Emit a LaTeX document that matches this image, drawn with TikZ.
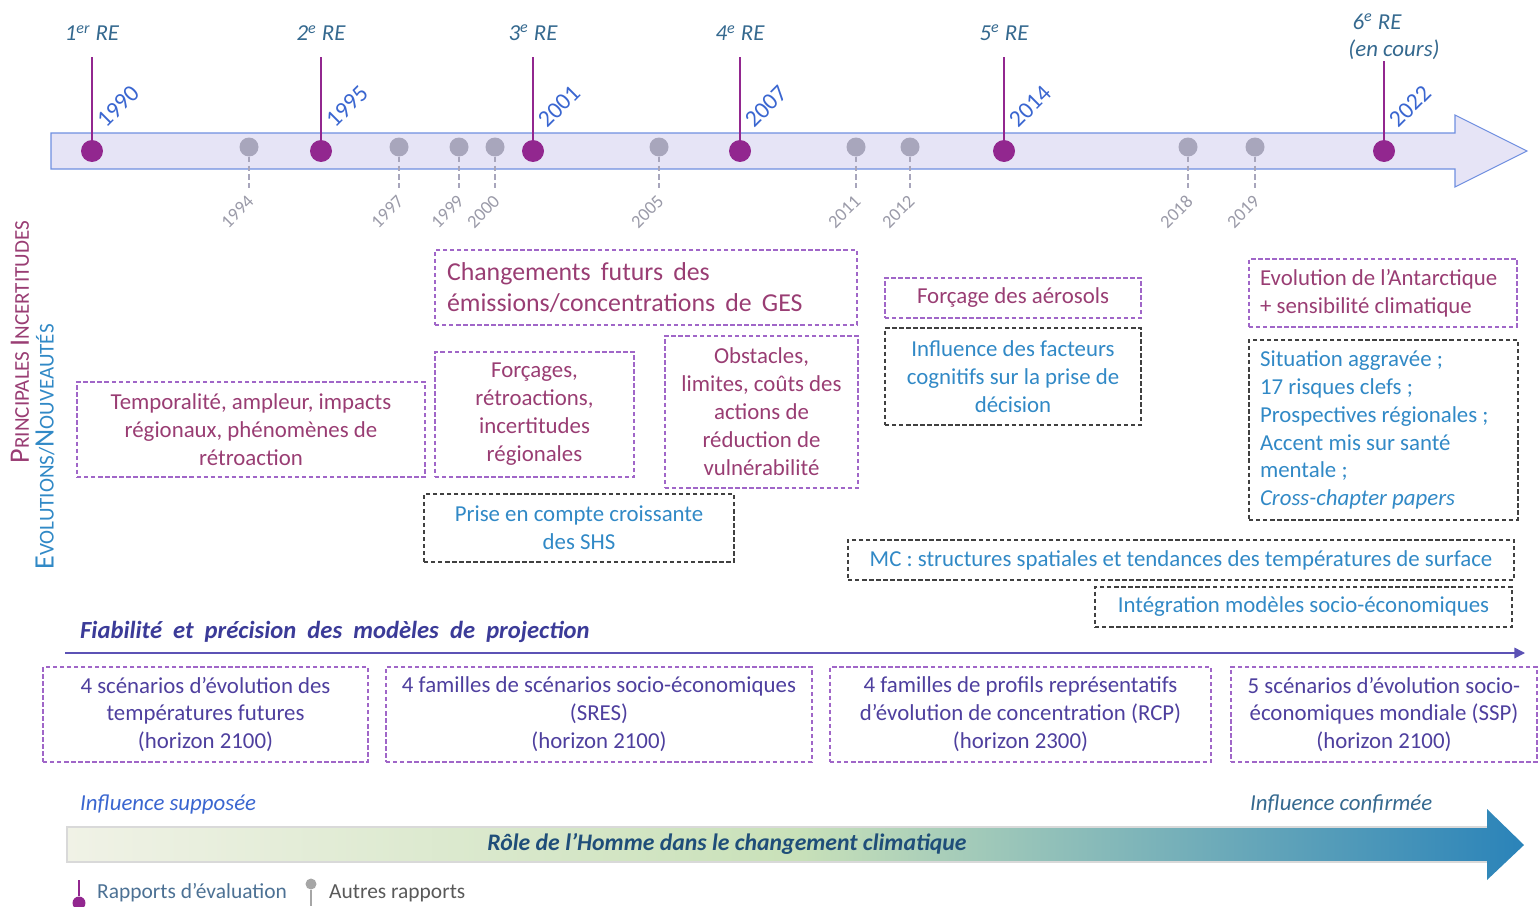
\documentclass[tikz,border=0pt]{standalone}
\usepackage{fontspec}
\setmainfont{Carlito}
\usetikzlibrary{arrows.meta}
\definecolor{repurple}{HTML}{92278F}
\definecolor{dotgrey}{HTML}{A8A6BC}
\definecolor{barfill}{HTML}{E6E4F6}
\definecolor{barline}{HTML}{6F8FE0}
\definecolor{relabel}{HTML}{35698F}
\definecolor{yearblue}{HTML}{3A66D0}
\definecolor{yeargrey}{HTML}{9A9AA8}
\definecolor{plumtext}{HTML}{993D73}
\definecolor{violetline}{HTML}{A066C8}
\definecolor{bluetext}{HTML}{3189C6}
\definecolor{greyline}{HTML}{404040}
\definecolor{indigotext}{HTML}{4E3F9E}
\definecolor{indigoline}{HTML}{5C52B5}
\definecolor{fiabtext}{HTML}{3B3B98}
\definecolor{rolelight}{HTML}{F0F2E6}
\definecolor{rolegreen}{HTML}{C9E1B9}
\definecolor{roleblue}{HTML}{2A83B9}
\definecolor{roletext}{HTML}{1F4E79}

\begin{document}
\begin{tikzpicture}[x=0.02cm, y=-0.02cm,
	boxtext/.style={font=\fontsize{13}{15.9}\selectfont, align=center, inner sep=0pt, line width=0.7pt, dash pattern=on 2.5pt off 1.5pt},
	uncbox/.style={boxtext, draw=violetline, text=plumtext},
	newbox/.style={boxtext, draw=greyline, text=bluetext},
	modbox/.style={boxtext, draw=violetline, text=indigotext},
	redot/.style={circle, fill=repurple, inner sep=0pt, minimum size=0.44cm},
	otherdot/.style={circle, fill=dotgrey, inner sep=0pt, minimum size=0.38cm},
	relab/.style={font=\fontsize{13}{15}\selectfont\itshape, text=relabel},
	yearlab/.style={font=\fontsize{13.5}{15}\selectfont, text=yearblue, rotate=45, inner sep=1pt},
	otheryear/.style={font=\fontsize{10.5}{12}\selectfont, text=yeargrey, rotate=45, inner sep=1pt},
	reline/.style={repurple, line width=0.6pt},
	otherline/.style={dotgrey, line width=0.6pt, dash pattern=on 3pt off 2pt}
	]
	\useasboundingbox (0,0) rectangle (1538,906);
	
	%timeline
	\draw[barline, fill=barfill, line width=0.6pt] (51,133) -- (1455,133) -- (1455,115) -- (1527,151) -- (1455,187) -- (1455,169) -- (51,169) -- cycle;
	
	\foreach \x/\yr in {249/1994, 399/1997, 459/1999, 495/2000, 659/2005, 856/2011, 910/2012, 1188/2018, 1255/2019}{
		\node[otherdot] (ot\yr) at (\x,147) {};
		\node[otheryear, anchor=east] (oy\yr) at (\x+3,197) {\yr};
		\coordinate (ob\yr) at (\x,190);
		\draw[otherline] (ot\yr) -- (ob\yr);
	}
	
	\foreach \n/\x/\yr/\ord in {1/92/1990/er, 2/321/1995/e, 3/533/2001/e, 4/740/2007/e, 5/1004/2014/e}{
		\node[redot] (re\n) at (\x,151) {};
		\node[relab] (ord\n) at (\x,33) {\n\textsuperscript{\ord} RE};
		\coordinate (top\n) at (\x,57);
		\draw[reline] (top\n) -- (re\n);
		\node[yearlab, anchor=south west] (yr\n) at (\x+15,132) {\yr};
	}
	\node[redot] (re6) at (1384,151) {};
	\node[relab] (ord6) at (1377,22) {6\textsuperscript{e} RE};
	\node[relab] (cours) at (1394,50) {(en cours)};
	\coordinate (top6) at (1384,61);
	\draw[reline] (top6) -- (re6);
	\node[yearlab, anchor=south west] (yr6) at (1399,132) {2022};
	
	%side titles
	\node[rotate=90, text=plumtext] (unc) at (20,342) {{\fontsize{16}{16}\selectfont P}{\fontsize{12}{14}\selectfont RINCIPALES }{\fontsize{16}{16}\selectfont I}{\fontsize{12}{14}\selectfont NCERTITUDES}};
	\node[rotate=90, text=bluetext] (nov) at (45,447) {{\fontsize{16}{16}\selectfont E}{\fontsize{12}{14}\selectfont VOLUTIONS/}{\fontsize{16}{16}\selectfont N}{\fontsize{12}{14}\selectfont OUVEAUTÉS}};
	
	%uncertainties and novelties
	\node[uncbox, minimum width=6.96cm, minimum height=1.9cm] (tempo) at (251,429.5) {Temporalité, ampleur, impacts\\régionaux, phénomènes de\\rétroaction};
	\node[uncbox, minimum width=8.44cm, minimum height=1.5cm, text width=7.96cm, align=flush left, inner xsep=0.24cm, font=\fontsize{14.7}{18}\selectfont] (ges) at (646,287.5) {Changements\ \,futurs\ \,des\\émissions/concentrations\ \,de\ \,GES};
	\node[uncbox, minimum width=3.98cm, minimum height=2.5cm] (forc) at (534.5,414.5) {Forçages,\\rétroactions,\\incertitudes\\régionales};
	\node[uncbox, minimum width=3.86cm, minimum height=3.04cm] (obst) at (761.5,412) {Obstacles,\\limites, coûts des\\actions de\\réduction de\\vulnérabilité};
	\node[uncbox, minimum width=5.12cm, minimum height=0.8cm] (aero) at (1013,298) {Forçage des aérosols};
	\node[uncbox, minimum width=5.36cm, minimum height=1.36cm, text width=4.92cm, align=flush left, inner xsep=0.22cm] (antar) at (1383,293) {Evolution de l’Antarctique\\+ sensibilité climatique};
	\node[newbox, minimum width=6.2cm, minimum height=1.36cm] (shs) at (579,528) {Prise en compte croissante\\des SHS};
	\node[newbox, minimum width=5.12cm, minimum height=1.94cm] (cogn) at (1013,376.5) {Influence des facteurs\\cognitifs sur la prise de\\décision};
	\node[newbox, minimum width=5.38cm, minimum height=3.6cm, text width=4.94cm, align=flush left, inner xsep=0.22cm] (risk) at (1383.5,430) {Situation aggravée ;\\17 risques clefs ;\\Prospectives régionales ;\\Accent mis sur santé\\mentale ;\\\textit{Cross-chapter papers}};
	\node[newbox, minimum width=13.32cm, minimum height=0.8cm] (mc) at (1181,560) {MC : structures spatiales et tendances des températures de surface};
	\node[newbox, minimum width=8.34cm, minimum height=0.8cm] (integ) at (1303.5,607) {Intégration modèles socio-économiques};
	
	%models
	\node[anchor=west, text=fiabtext, font=\fontsize{14}{16}\selectfont\bfseries\itshape] (fiab) at (74,632) {Fiabilité\ \ et\ \ précision\ \ des\ \ modèles\ \ de\ \ projection};
	\coordinate (mstart) at (65,653);
	\coordinate (mend) at (1525,653);
	\draw[indigoline, line width=0.9pt, -{Triangle[length=6pt,width=6pt]}] (mstart) -- (mend);
	
	\node[modbox, minimum width=6.5cm, minimum height=1.9cm] (scen) at (205.5,714.5) {4 scénarios d’évolution des\\températures futures\\(horizon 2100)};
	\node[modbox, minimum width=8.52cm, minimum height=1.9cm] (sres) at (599,714.5) {4 familles de scénarios socio-économiques\\(SRES)\\(horizon 2100)};
	\node[modbox, minimum width=7.62cm, minimum height=1.9cm] (rcp) at (1020.5,714.5) {4 familles de profils représentatifs\\d’évolution de concentration (RCP)\\(horizon 2300)};
	\node[modbox, minimum width=6.12cm, minimum height=1.9cm] (ssp) at (1384,714.5) {5 scénarios d’évolution socio-\\économiques mondiale (SSP)\\(horizon 2100)};
	
	%human role
	\node[anchor=west, text=yearblue, font=\fontsize{13}{15}\selectfont\itshape] (supp) at (74,804) {Influence supposée};
	\node[anchor=west, text=relabel, font=\fontsize{13}{15}\selectfont\itshape] (conf) at (1244,804) {Influence confirmée};
	\shade[left color=rolelight, right color=roleblue, middle color=rolegreen] (67,827) -- (1487,827) -- (1487,809) -- (1524,845) -- (1487,880) -- (1487,862) -- (67,862) -- cycle;
	\draw[black!15, line width=0.8pt] (1487,827) -- (67,827) -- (67,862) -- (1487,862);
	\node[text=roletext, font=\fontsize{13.5}{15}\selectfont\bfseries\itshape] (role) at (727,844) {Rôle de l’Homme dans le changement climatique};
	
	%legend
	\node[circle, fill=repurple, inner sep=0pt, minimum size=0.26cm] (lgre) at (79,903) {};
	\coordinate (lgretop) at (79,880);
	\draw[reline] (lgretop) -- (lgre);
	\node[anchor=west, text=roletext!80!white, font=\fontsize{12.2}{14}\selectfont] (lgretext) at (91,893) {Rapports d’évaluation};
	\node[circle, fill=black!35, inner sep=0pt, minimum size=0.22cm] (lgot) at (311,884) {};
	\coordinate (lgotbot) at (311,906);
	\draw[black!35, line width=0.6pt] (lgot) -- (lgotbot);
	\node[anchor=west, text=black!65, font=\fontsize{12.2}{14}\selectfont] (lgottext) at (323,893) {Autres rapports};
\end{tikzpicture}
\end{document}
